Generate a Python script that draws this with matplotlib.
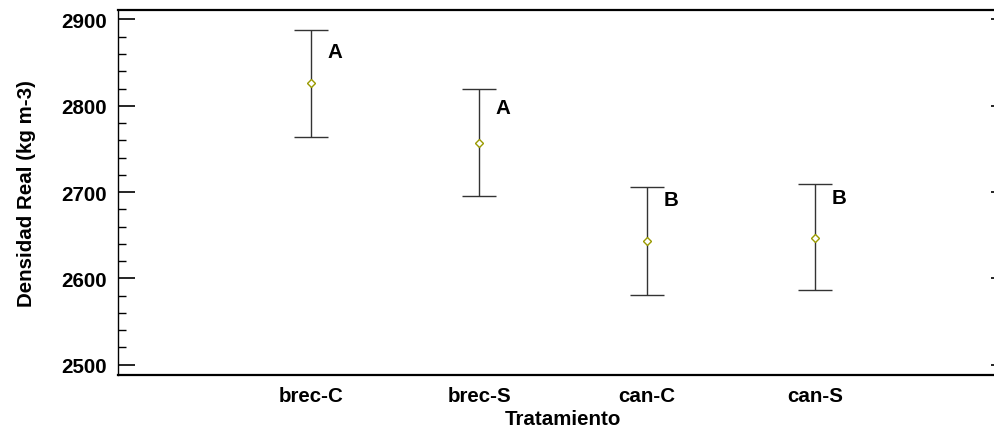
import matplotlib
matplotlib.use("Agg")
import matplotlib.pyplot as plt
from matplotlib.ticker import MultipleLocator

categories = ["brec-C", "brec-S", "can-C", "can-S"]
means = [2826, 2757, 2643, 2647]
lower = [2764, 2696, 2581, 2586]
upper = [2888, 2820, 2706, 2709]
letters = ["A", "A", "B", "B"]
letter_y = [2863, 2798, 2691, 2694]

plt.rcParams['font.family'] = ['Liberation Sans', 'DejaVu Sans']
plt.rcParams['font.weight'] = 'bold'

FS = 14.8

fig = plt.figure(figsize=(9.95, 4.31), dpi=100)
ax = fig.add_axes([118/995, 55/431, 890/995, 365/431])

xs = list(range(1, len(categories) + 1))
err_lo = [m - l for m, l in zip(means, lower)]
err_hi = [u - m for m, u in zip(means, upper)]
ax.errorbar(xs, means, yerr=[err_lo, err_hi], fmt='none', ecolor='#333333',
            elinewidth=1.0, capsize=12, capthick=1.0, zorder=2)
ax.plot(xs, means, linestyle='none', marker='D', markersize=4.5,
        markerfacecolor='white', markeredgecolor='#9a9a00', markeredgewidth=1.0, zorder=3)
for x, ly, t in zip(xs, letter_y, letters):
    ax.text(x + 0.1, ly, t, ha='left', va='center', fontsize=FS, fontweight='bold', color='black')

ax.set_xlim(-0.15, 5.15)
ax.set_ylim(2488, 2911)
ax.set_xticks(xs)
ax.set_xticklabels(categories)
ax.yaxis.set_major_locator(MultipleLocator(100))
ax.yaxis.set_minor_locator(MultipleLocator(20))

ax.tick_params(axis='x', length=0, pad=8, labelsize=FS)
ax.tick_params(axis='y', which='major', direction='in', length=12, width=1.2,
               pad=8, labelsize=FS, right=True)
ax.tick_params(axis='y', which='minor', direction='in', length=6, width=1.0,
               right=False)

ax.spines['right'].set_visible(False)
ax.spines['left'].set_linewidth(1.0)
ax.spines['top'].set_linewidth(1.6)
ax.spines['bottom'].set_linewidth(1.6)

ax.set_xlabel("Tratamiento", fontsize=FS, fontweight='bold', labelpad=3)
ax.set_ylabel("Densidad Real (kg m-3)", fontsize=FS, fontweight='bold')
ax.yaxis.set_label_coords(-0.092, 0.5)

fig.savefig("out.png", dpi=100)
